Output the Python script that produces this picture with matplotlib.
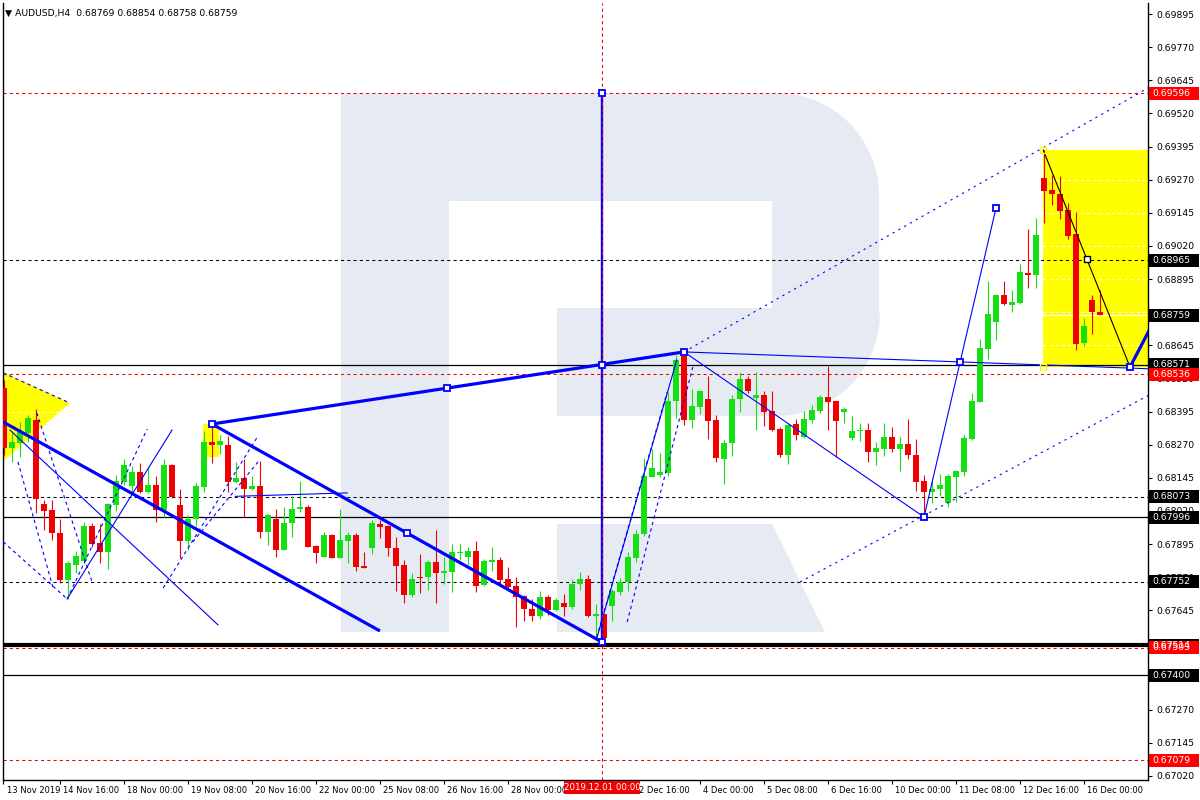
import numpy as np
import matplotlib
matplotlib.use('Agg')
import matplotlib.pyplot as plt
from matplotlib.patches import Polygon, Rectangle
from matplotlib.transforms import blended_transform_factory, ScaledTranslation

# AUDUSD H4 candles, 13 Nov 2019 12:00 .. 16 Dec 2019
opens = [0.68484, 0.68258, 0.68276, 0.68314, 0.68363, 0.68046, 0.68024, 0.67937, 0.67759, 0.67816,
         0.67831, 0.67963, 0.67899, 0.67865, 0.68042, 0.68129, 0.68114, 0.68167, 0.68091, 0.68118,
         0.68024, 0.68193, 0.68042, 0.67907, 0.67990, 0.68110, 0.68280, 0.68269, 0.68269, 0.68129,
         0.68144, 0.68103, 0.68114, 0.67940, 0.67990, 0.67873, 0.67974, 0.68027, 0.68035, 0.67888,
         0.67846, 0.67929, 0.67842, 0.67907, 0.67929, 0.67812, 0.67880, 0.67971, 0.67963, 0.67880,
         0.67816, 0.67703, 0.67771, 0.67771, 0.67827, 0.67786, 0.67790, 0.67861, 0.67846, 0.67869,
         0.67740, 0.67827, 0.67835, 0.67763, 0.67737, 0.67699, 0.67650, 0.67623, 0.67695, 0.67646,
         0.67673, 0.67657, 0.67744, 0.67763, 0.67623, 0.67631, 0.67661, 0.67714, 0.67752, 0.67842,
         0.67933, 0.68148, 0.68156, 0.68163, 0.68435, 0.68616, 0.68363, 0.68412, 0.68442, 0.68363,
         0.68216, 0.68276, 0.68442, 0.68518, 0.68446, 0.68458, 0.68397, 0.68329, 0.68231, 0.68348,
         0.68299, 0.68363, 0.68397, 0.68450, 0.68435, 0.68393, 0.68295, 0.68322, 0.68325, 0.68242,
         0.68254, 0.68299, 0.68254, 0.68273, 0.68231, 0.68133, 0.68091, 0.68103, 0.68050, 0.68148,
         0.68167, 0.68291, 0.68431, 0.68631, 0.68733, 0.68835, 0.68797, 0.68805, 0.68918, 0.68910,
         0.69276, 0.69231, 0.69216, 0.69156, 0.69065, 0.68654, 0.68816, 0.68769]
highs = [0.68514, 0.68314, 0.68356, 0.68382, 0.68405, 0.68061, 0.68061, 0.67990, 0.67831, 0.67869,
         0.67978, 0.67974, 0.67971, 0.68050, 0.68156, 0.68216, 0.68190, 0.68201, 0.68190, 0.68152,
         0.68216, 0.68197, 0.68103, 0.68005, 0.68125, 0.68322, 0.68348, 0.68307, 0.68303, 0.68205,
         0.68216, 0.68152, 0.68208, 0.68008, 0.68027, 0.68035, 0.68076, 0.68133, 0.68042, 0.67891,
         0.67940, 0.67933, 0.68027, 0.67940, 0.67937, 0.67865, 0.67986, 0.67986, 0.67967, 0.67922,
         0.67835, 0.67786, 0.67857, 0.67835, 0.67948, 0.67846, 0.67895, 0.67895, 0.67884, 0.67907,
         0.67839, 0.67884, 0.67846, 0.67808, 0.67771, 0.67703, 0.67688, 0.67718, 0.67703, 0.67691,
         0.67707, 0.67763, 0.67790, 0.67778, 0.67669, 0.67631, 0.67725, 0.67767, 0.67865, 0.67948,
         0.68220, 0.68254, 0.68239, 0.68469, 0.68608, 0.68620, 0.68480, 0.68476, 0.68529, 0.68382,
         0.68288, 0.68458, 0.68544, 0.68529, 0.68544, 0.68473, 0.68473, 0.68337, 0.68352, 0.68367,
         0.68397, 0.68420, 0.68458, 0.68566, 0.68435, 0.68412, 0.68378, 0.68352, 0.68352, 0.68280,
         0.68352, 0.68337, 0.68299, 0.68367, 0.68291, 0.68156, 0.68144, 0.68159, 0.68159, 0.68175,
         0.68307, 0.68465, 0.68669, 0.68888, 0.68839, 0.68888, 0.68854, 0.68952, 0.69084, 0.69125,
         0.69382, 0.69287, 0.69284, 0.69182, 0.69148, 0.68748, 0.68835, 0.68854]
lows = [0.68231, 0.68205, 0.68224, 0.68280, 0.68012, 0.67948, 0.67910, 0.67748, 0.67688, 0.67786,
        0.67820, 0.67884, 0.67824, 0.67801, 0.68020, 0.68118, 0.68091, 0.68088, 0.68088, 0.67978,
        0.67997, 0.68069, 0.67842, 0.67873, 0.67963, 0.68091, 0.68201, 0.68235, 0.68091, 0.68125,
        0.67997, 0.68099, 0.67918, 0.67891, 0.67846, 0.67873, 0.67922, 0.68016, 0.67884, 0.67824,
        0.67846, 0.67842, 0.67842, 0.67824, 0.67793, 0.67805, 0.67857, 0.67918, 0.67850, 0.67718,
        0.67673, 0.67695, 0.67710, 0.67722, 0.67673, 0.67744, 0.67714, 0.67835, 0.67816, 0.67714,
        0.67737, 0.67793, 0.67740, 0.67729, 0.67582, 0.67605, 0.67605, 0.67612, 0.67627, 0.67642,
        0.67623, 0.67650, 0.67722, 0.67620, 0.67533, 0.67525, 0.67605, 0.67703, 0.67718, 0.67827,
        0.67925, 0.68148, 0.68148, 0.68152, 0.68371, 0.68344, 0.68333, 0.68386, 0.68291, 0.68205,
        0.68122, 0.68227, 0.68393, 0.68465, 0.68325, 0.68341, 0.68322, 0.68224, 0.68197, 0.68288,
        0.68295, 0.68352, 0.68390, 0.68325, 0.68224, 0.68352, 0.68288, 0.68284, 0.68205, 0.68193,
        0.68227, 0.68242, 0.68171, 0.68216, 0.68095, 0.67997, 0.68050, 0.68076, 0.68035, 0.68054,
        0.68152, 0.68288, 0.68431, 0.68593, 0.68665, 0.68797, 0.68771, 0.68801, 0.68861, 0.68861,
        0.69108, 0.69174, 0.69122, 0.69046, 0.68627, 0.68642, 0.68688, 0.68758]
closes = [0.68258, 0.68280, 0.68318, 0.68371, 0.68065, 0.68020, 0.67937, 0.67759, 0.67824, 0.67850,
          0.67963, 0.67895, 0.67865, 0.68046, 0.68133, 0.68193, 0.68167, 0.68091, 0.68118, 0.68024,
          0.68193, 0.68073, 0.67907, 0.67990, 0.68114, 0.68280, 0.68269, 0.68284, 0.68129, 0.68144,
          0.68103, 0.68114, 0.67940, 0.68005, 0.67873, 0.67974, 0.68027, 0.68035, 0.67884, 0.67861,
          0.67929, 0.67842, 0.67910, 0.67929, 0.67808, 0.67805, 0.67974, 0.67959, 0.67880, 0.67812,
          0.67703, 0.67763, 0.67767, 0.67827, 0.67786, 0.67793, 0.67865, 0.67865, 0.67869, 0.67737,
          0.67831, 0.67835, 0.67759, 0.67733, 0.67695, 0.67650, 0.67623, 0.67695, 0.67646, 0.67684,
          0.67657, 0.67744, 0.67763, 0.67623, 0.67631, 0.67540, 0.67718, 0.67752, 0.67846, 0.67933,
          0.68152, 0.68182, 0.68167, 0.68435, 0.68590, 0.68363, 0.68416, 0.68473, 0.68359, 0.68220,
          0.68276, 0.68442, 0.68518, 0.68473, 0.68458, 0.68393, 0.68325, 0.68231, 0.68344, 0.68307,
          0.68367, 0.68401, 0.68450, 0.68431, 0.68359, 0.68405, 0.68322, 0.68325, 0.68242, 0.68258,
          0.68299, 0.68254, 0.68273, 0.68231, 0.68129, 0.68091, 0.68103, 0.68118, 0.68152, 0.68171,
          0.68295, 0.68435, 0.68635, 0.68763, 0.68835, 0.68801, 0.68808, 0.68922, 0.68910, 0.69061,
          0.69227, 0.69216, 0.69152, 0.69058, 0.68650, 0.68718, 0.68771, 0.68759]

# the 29 Nov 08:00 label sits under the crosshair date box, so it is left blank
time_tick_bars = [-0.1, 7, 15, 23, 31, 39, 47, 55, 63, 71, 79, 87, 95, 103, 111, 119, 127, 135]
time_tick_labels = ['13 Nov 2019', '14 Nov 16:00', '18 Nov 00:00', '19 Nov 08:00', '20 Nov 16:00',
                    '22 Nov 00:00', '25 Nov 08:00', '26 Nov 16:00', '28 Nov 00:00', '',
                    '2 Dec 16:00', '4 Dec 00:00', '5 Dec 08:00', '6 Dec 16:00', '10 Dec 00:00',
                    '11 Dec 08:00', '12 Dec 16:00', '16 Dec 00:00']
price_ticks = [0.67020, 0.67145, 0.67270, 0.67395, 0.67520, 0.67645, 0.67770, 0.67895, 0.68020,
               0.68145, 0.68270, 0.68395, 0.68520, 0.68645, 0.68770, 0.68895, 0.69020, 0.69145,
               0.69270, 0.69395, 0.69520, 0.69645, 0.69770, 0.69895]
# scale labels that sit completely under a price box
hidden_ticks = [0.67395, 0.67520, 0.68770]

# horizontal levels
levels_black_dashed = [0.68965, 0.68073, 0.67752]
levels_black_solid = [0.68571, 0.67996, 0.67400]
level_black_thick = 0.67514
levels_red_dashed = [0.69596, 0.68536, 0.67503, 0.67079]
bid_price = 0.68759

# price boxes on the right scale (drawn in this order)
box_prices = [0.68965, 0.68759, 0.68571, 0.68073, 0.67996, 0.67752, 0.67514, 0.67400,
              0.69596, 0.68536, 0.67503, 0.67079]
box_colors = ['black'] * 8 + ['#ff0000'] * 4

# drawing objects: (bar, price) anchors
thick_lines = [((26, 0.68348), (85, 0.68620)),
               ((26, 0.68348), (74.75, 0.67525)),
               ((-0.125, 0.68356), (47, 0.67567)),
               ((140.75, 0.68563), (143.9, 0.68745))]
thin_lines = [((0.75, 0.68325), (26.75, 0.67590)),
              ((7.9, 0.67688), (21, 0.68325)),
              ((74.1, 0.67540), (84.1, 0.68590)),
              ((85, 0.68620), (115, 0.67997)),
              ((115, 0.67997), (124, 0.69163)),
              ((85, 0.68620), (143.5, 0.68556)),
              ((28.9, 0.68075), (42.9, 0.68088))]
dashed_lines = [((-0.1, 0.68541), (8.25, 0.68427)),
                ((-0.1, 0.67903), (7.9, 0.67688)),
                ((4.1, 0.68390), (11, 0.67752)),
                ((1.75, 0.68205), (6.1, 0.67733)),
                ((7.9, 0.67688), (17.9, 0.68329)),
                ((19.9, 0.67729), (31.75, 0.68303)),
                ((23.6, 0.67903), (31.75, 0.68205)),
                ((74.1, 0.67544), (82.9, 0.68469)),
                ((77.9, 0.67601), (86.1, 0.68563))]
dotted_lines = [((85, 0.68620), (143, 0.69616)),
                ((99.5, 0.67752), (143.6, 0.68465))]
black_line = ((129.9, 0.69382), (140.75, 0.68563))
vline_bar = 74.75
vline_from, vline_to = 0.67525, 0.69596

blue_sq_x = [26, 55.4, 50.4, 74.75, 74.75, 74.75, 85, 115, 119.5, 124, 140.75]
blue_sq_y = [0.68348, 0.68484, 0.67938, 0.69596, 0.68571, 0.67525, 0.68620, 0.67997, 0.68582, 0.69163, 0.68563]

yellow_triangle = [(-0.125, 0.68544), (8.25, 0.68427), (-0.125, 0.68208)]
yellow_small = (24.9, 0.68224, 2.0, 0.00124)
yellow_big = (129.9, 0.68563, 16.0, 0.00819)

GREEN = '#14e014'
RED = '#f00000'
BLUE = '#0000ff'
W, H = 1200, 800


def fpx(x, y):
    # reference pixel -> figure fraction (used for the watermark only)
    return (x / W, 1 - y / H)


fig = plt.figure(figsize=(12, 8), dpi=100)
ax = fig.add_axes([3 / W, 20 / H, 1145 / W, 777 / H])
ax.set_xlim(-0.125, 143)
ax.set_ylim(0.670046, 0.699367)
ax.set_facecolor('white')

# watermark "R"
wm = '#e6ebf3'
t = np.linspace(0, np.pi / 2, 20)
bowl = [fpx(449, 93), fpx(777, 93)]
bowl += [fpx(777 + 102 * np.sin(a), 195 - 102 * np.cos(a)) for a in t]
bowl += [fpx(879, 313)]
bowl += [fpx(777 + 103 * np.cos(a), 313 + 103 * np.sin(a)) for a in t]
bowl += [fpx(557, 416), fpx(557, 308), fpx(772, 308), fpx(772, 201), fpx(449, 201)]
stem = [fpx(341, 93), fpx(449, 93), fpx(449, 632), fpx(341, 632)]
leg = [fpx(557, 524), fpx(772, 524), fpx(825, 632), fpx(557, 632)]
for shape in (bowl, stem, leg):
    ax.add_patch(Polygon(shape, closed=True, transform=fig.transFigure, fc=wm, ec='none', zorder=1.7))

# yellow objects
ax.add_patch(Polygon(yellow_triangle, closed=True, fc='#ffff00', ec='none', zorder=1))
ax.add_patch(Rectangle(yellow_small[:2], yellow_small[2], yellow_small[3], fc='#ffff00', ec='none', zorder=1))
ax.add_patch(Rectangle(yellow_big[:2], yellow_big[2], yellow_big[3], fc='#ffff00', ec='none', zorder=1))

# white grid (only shows on the yellow)
ax.hlines(price_ticks, -1, 150, colors='white', linestyles=(0, (3, 3)), lw=0.75, zorder=1.5)
ax.axhline(bid_price, color='white', lw=0.8, zorder=1.5)

# levels
for lv in levels_black_dashed:
    ax.axhline(lv, color='black', lw=0.75, ls=(0, (3, 3)), zorder=2)
for lv in levels_black_solid:
    ax.axhline(lv, color='black', lw=0.9, zorder=2)
ax.axhline(level_black_thick, color='black', lw=3.0, zorder=2)
for lv in levels_red_dashed:
    ax.axhline(lv, color=RED, lw=0.75, ls=(0, (3, 3)), zorder=2)

# candles
o = np.array(opens)
c = np.array(closes)
bars = np.arange(len(o))
cols = np.where(c >= o, GREEN, RED)
ax.vlines(bars, lows, highs, colors=cols, lw=0.8, zorder=3)
body_h = np.maximum(np.abs(c - o), 0.00004)
ax.bar(bars, body_h, bottom=np.minimum(o, c), width=0.7, color=cols, lw=0, zorder=3)

# drawing objects
for (x0, y0), (x1, y1) in thick_lines:
    ax.plot([x0, x1], [y0, y1], color=BLUE, lw=2.3, zorder=4, solid_capstyle='butt')
for (x0, y0), (x1, y1) in thin_lines:
    ax.plot([x0, x1], [y0, y1], color=BLUE, lw=0.8, zorder=4)
for (x0, y0), (x1, y1) in dashed_lines:
    ax.plot([x0, x1], [y0, y1], color=BLUE, lw=0.8, ls=(0, (3, 3)), zorder=4)
for (x0, y0), (x1, y1) in dotted_lines:
    ax.plot([x0, x1], [y0, y1], color=BLUE, lw=0.8, ls=(0, (2, 4)), zorder=4)
ax.plot([black_line[0][0], black_line[1][0]], [black_line[0][1], black_line[1][1]],
        color='black', lw=0.8, zorder=4)
ax.plot([vline_bar, vline_bar], [vline_from, vline_to], color=BLUE, lw=1.7, zorder=4)
ax.axvline(vline_bar, color=RED, lw=0.75, ls=(0, (3, 3)), zorder=5)

ax.plot(blue_sq_x, blue_sq_y, 's', ms=4.5, mfc='white', mec=BLUE, mew=1.3, zorder=6)
ax.plot([(black_line[0][0] + black_line[1][0]) / 2], [(black_line[0][1] + black_line[1][1]) / 2],
        's', ms=4.5, mfc='white', mec='black', mew=1.0, zorder=6)
ax.plot([yellow_big[0], yellow_big[0]], [yellow_big[1] + yellow_big[3], yellow_big[1]],
        's', ms=4, mfc='none', mec='#ffff00', mew=1.0, zorder=6)

# axes styling
for side in ('left', 'right', 'bottom'):
    ax.spines[side].set_color('black')
    ax.spines[side].set_linewidth(1.0)
ax.spines['top'].set_visible(False)

ax.yaxis.tick_right()
ax.set_yticks(price_ticks)
ax.set_yticklabels(['' if p in hidden_ticks else '%.5f' % p for p in price_ticks])
ax.tick_params(axis='y', direction='out', length=3, width=0.8, pad=3, labelsize=6.7)

ax.set_xticks(time_tick_bars)
ax.set_xticklabels(time_tick_labels, ha='left')
ax.tick_params(axis='x', direction='out', length=3, width=0.8, pad=1.5, labelsize=6.0)
shift = ScaledTranslation(2.5 / 72, 0, fig.dpi_scale_trans)
for lab in ax.get_xticklabels():
    lab.set_transform(lab.get_transform() + shift)

# price boxes on the scale
tr_y = blended_transform_factory(ax.transAxes, ax.transData)
box_h = 13 / 26.5 * 0.001
for p, col in zip(box_prices, box_colors):
    ax.add_patch(Rectangle((1.0009, p - box_h / 2), 50 / 1145, box_h, transform=tr_y,
                           fc=col, ec='none', clip_on=False, zorder=8))
    ax.text(1.0035, p, '%.5f' % p, transform=tr_y, color='white', fontsize=6.7,
            ha='left', va='center', clip_on=False, zorder=9)

# date box under the crosshair
tr_x = blended_transform_factory(ax.transData, ax.transAxes)
ax.add_patch(Rectangle((vline_bar - 4.8, -14 / 777), 9.6, 13 / 777, transform=tr_x,
                       fc=RED, ec='none', clip_on=False, zorder=8))
ax.text(vline_bar, -7.5 / 777, '2019.12.01 00:00', transform=tr_x, color='white', fontsize=6.2,
        ha='center', va='center', clip_on=False, zorder=9)

fig.text(5 / W, 1 - 13 / H, '\u25bc AUDUSD,H4  %.5f %.5f %.5f %.5f' % (opens[-1], highs[-1], lows[-1], closes[-1]),
         fontsize=6.7, va='center', ha='left')

fig.savefig('out.png', dpi=100)
